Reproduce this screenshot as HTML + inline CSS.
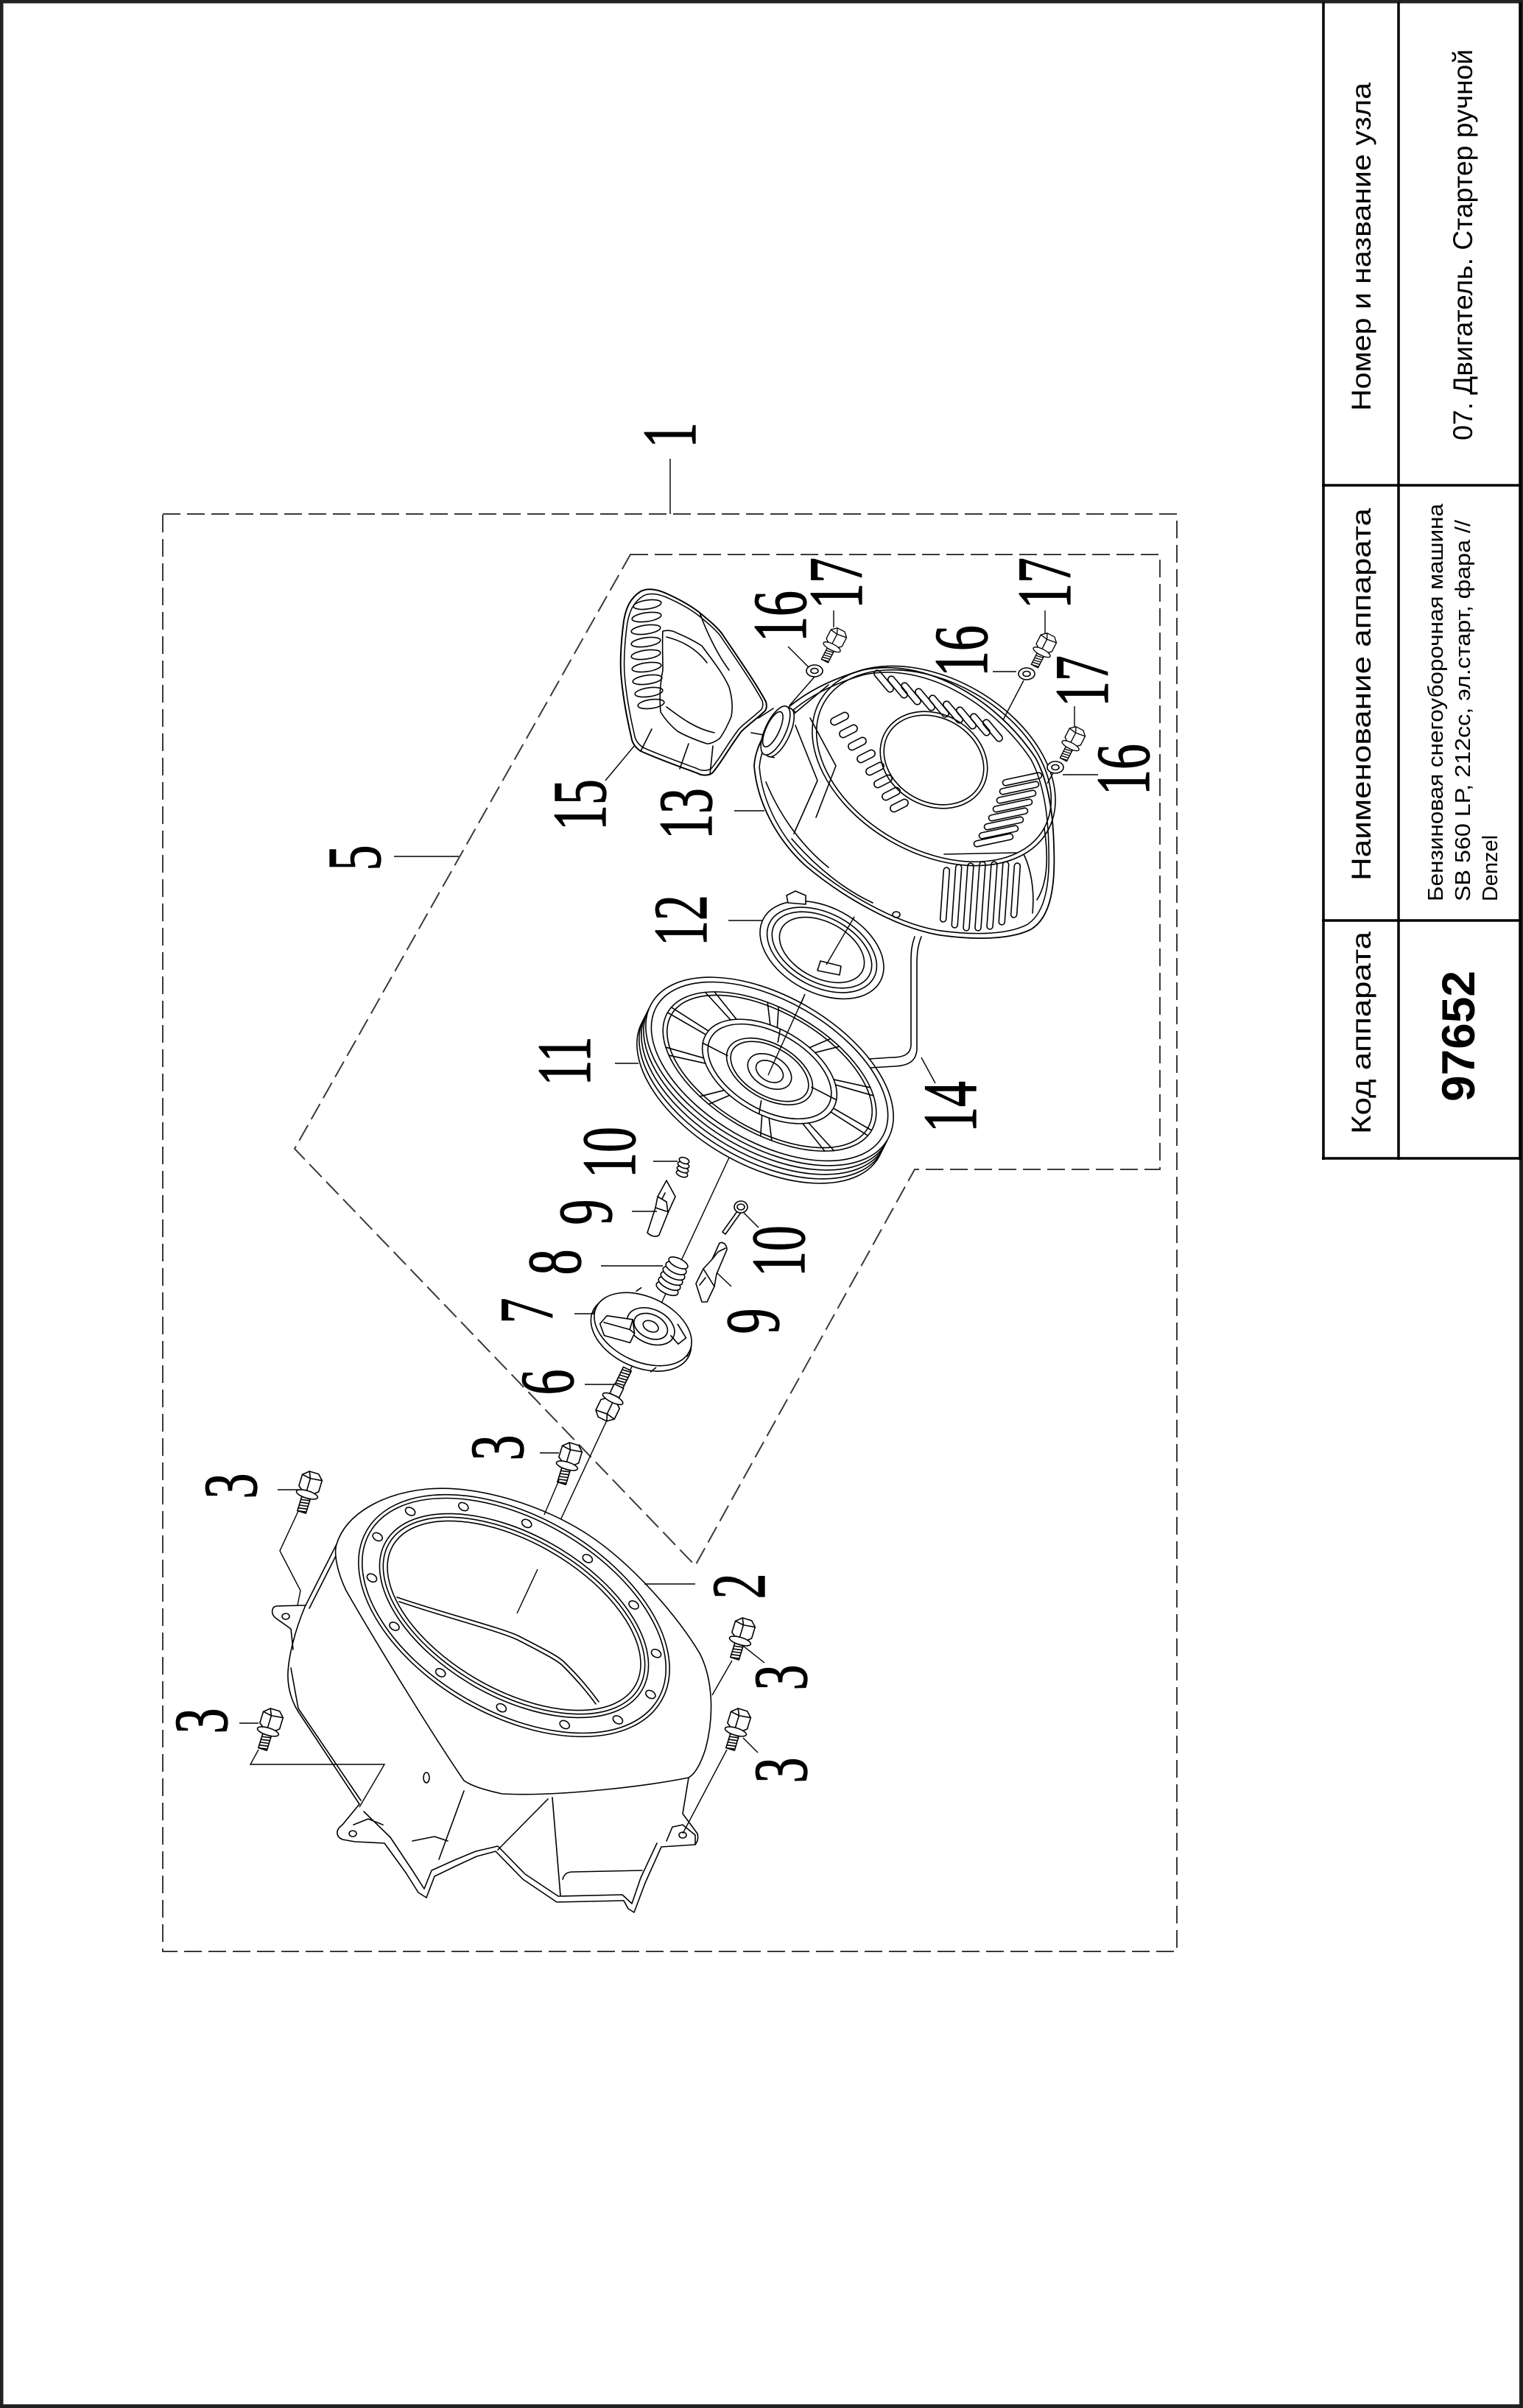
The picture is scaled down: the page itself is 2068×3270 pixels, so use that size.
<!DOCTYPE html>
<html>
<head>
<meta charset="utf-8">
<style>
html,body{margin:0;padding:0;background:#fff}
svg{display:block}
.t{font-family:"Liberation Sans",Arial,sans-serif;fill:#000}
.n{font-family:"Liberation Serif","Times New Roman",serif;font-size:104px;fill:#000;stroke:#000;stroke-width:1.3}
.d{fill:none;stroke:#000;stroke-width:1.6;stroke-linejoin:round;stroke-linecap:round}
.w{fill:#fff;stroke:#000;stroke-width:1.6;stroke-linejoin:round}
.l{fill:none;stroke:#000;stroke-width:1.4}
.ds{fill:none;stroke:#3a3a3a;stroke-width:2;stroke-dasharray:24 9}
.tb{stroke:#000;stroke-width:3.5;fill:none}
</style>
</head>
<body>
<svg width="2068" height="3270" viewBox="0 0 2068 3270" xmlns="http://www.w3.org/2000/svg" xmlns:xlink="http://www.w3.org/1999/xlink">
<defs>
  <g id="bolt">
    <path class="w" d="M-14,-10 L-6,-17 L7,-17 L14,-10 L14,6 L7,12 L-6,12 L-14,6 Z"/>
    <path class="d" d="M-6,-17 L-2,-8 L14,-10 M-2,-8 L-14,-10 M-2,-8 L-2,11"/>
    <ellipse class="w" cx="0" cy="14" rx="15" ry="5"/>
    <rect class="w" x="-6" y="19" width="12" height="20"/>
    <path class="d" d="M-6,23 L6,21 M-6,27 L6,25 M-6,31 L6,29 M-6,35 L6,33 M-6,39 L6,37"/>
  </g>
  <g id="washer">
    <ellipse class="w" cx="0" cy="0" rx="11" ry="8"/>
    <ellipse class="d" cx="0" cy="0" rx="5" ry="3.5"/>
  </g>
  <path id="cov" d="M1024,1040 C1028,985 1085,935 1171,910 C1255,892 1352,948 1406,1029 C1424,1062 1430,1105 1431,1150 C1433,1200 1428,1245 1400,1262 C1370,1277 1320,1276 1277,1270 C1215,1260 1140,1215 1093,1175 C1055,1140 1028,1090 1024,1040 Z"/>
  <path id="hdl" d="M870,803 C878,799 890,799 905,806 C925,815 940,824 950,832 C962,842 972,850 980,860 C1000,890 1025,925 1040,953 C1042,960 1040,965 1037,967 C1025,978 1015,985 1007,993 C990,1015 980,1035 967,1050 C960,1054 952,1053 947,1050 C920,1040 892,1030 870,1020 C862,1015 858,1008 857,1000 C850,970 845,940 843,913 C842,890 844,865 847,843 C850,825 856,812 870,803 Z"/>
  <rect id="slotA" x="-18" y="-4.5" width="36" height="9" rx="4.5"/>
  <rect id="slotB" x="-13" y="-5" width="26" height="10" rx="5"/>
  <rect id="slotC" x="-27" y="-4" width="54" height="8" rx="4"/>
</defs>

<!-- page frame -->
<rect x="0" y="0" width="2068" height="3270" fill="#fff"/>
<rect x="2" y="2" width="2063.5" height="3265.5" fill="none" stroke="#222" stroke-width="5"/>

<!-- title block -->
<line class="tb" x1="1797" y1="3" x2="1797" y2="1575"/>
<line class="tb" x1="1899" y1="3" x2="1899" y2="1575"/>
<line class="tb" x1="2064" y1="3" x2="2064" y2="1575"/>
<line class="tb" x1="1795" y1="659" x2="2066" y2="659"/>
<line class="tb" x1="1795" y1="1250" x2="2066" y2="1250"/>
<line class="tb" x1="1795" y1="1573" x2="2066" y2="1573"/>

<text class="t" font-size="37" transform="translate(1861,558) rotate(-90)" textLength="446" lengthAdjust="spacingAndGlyphs">Номер и название узла</text>
<text class="t" font-size="37" transform="translate(1999,598) rotate(-90)" textLength="531" lengthAdjust="spacingAndGlyphs">07. Двигатель. Стартер ручной</text>
<text class="t" font-size="37" transform="translate(1861,1196) rotate(-90)" textLength="506" lengthAdjust="spacingAndGlyphs">Наименование аппарата</text>
<text class="t" font-size="37" transform="translate(1861,1540) rotate(-90)" textLength="275" lengthAdjust="spacingAndGlyphs">Код аппарата</text>
<text class="t" font-size="63" font-weight="bold" transform="translate(2002,1496) rotate(-90)" textLength="178" lengthAdjust="spacingAndGlyphs">97652</text>
<text class="t" font-size="29" transform="translate(1959,1224) rotate(-90)" textLength="540" lengthAdjust="spacingAndGlyphs">Бензиновая снегоуборочная машина</text>
<text class="t" font-size="29" transform="translate(1996,1224) rotate(-90)" textLength="518" lengthAdjust="spacingAndGlyphs">SB 560 LP, 212cc, эл.старт, фара //</text>
<text class="t" font-size="29" transform="translate(2033,1224) rotate(-90)" textLength="90" lengthAdjust="spacingAndGlyphs">Denzel</text>

<!-- dashed boxes -->
<rect class="ds" x="221" y="698" width="1377" height="1952"/>
<path class="ds" d="M856,753 L1575,753 L1575,1588 L1242,1588 L944,2126 L400,1560 Z"/>

<!-- axis lines -->
<path class="l" d="M702,2191 L990,1572"/>
<path class="l" d="M1043,1470 L1093,1350"/>
<path class="l" d="M1122,1330 L1160,1245"/>
<path class="l" d="M1390,924 L1222,1246"/>
<path class="l" d="M1107,918 L1072,958"/>
<path class="l" d="M1431,1048 L1422,1064"/>

<!-- ===== HOUSING (2) ===== -->
<path class="d" d="M457,2097 L414,2182 C400,2215 392,2250 391,2271 C390,2295 398,2315 408,2329 L488,2450 L465,2478 C455,2485 456,2494 465,2498 L482,2501 L522,2503 L551,2543 L568,2570 L579,2577 L590,2548 L619,2534 L647,2521 L673,2514 L710,2552 L756,2583 L847,2581 L853,2592 L861,2597 L876,2557 L898,2508 L944,2505 C948,2500 948,2494 947,2490 L927,2463 L935,2414"/>
<path class="d" d="M494,2460 L530,2495 L560,2540 L576,2565 L586,2540 L617,2526 L646,2514 L676,2507 L713,2545 L758,2575 L845,2573 L858,2585 L870,2550 L892,2503"/>
<path class="d" d="M462,2101 L420,2184 M395,2265 L405,2320 L490,2445"/>
<path class="d" d="M414,2180 L375,2181 C368,2183 368,2192 374,2197 L395,2212 L398,2240"/>
<ellipse class="d" cx="388" cy="2195" rx="5" ry="4"/>
<ellipse class="d" cx="479" cy="2490" rx="5" ry="4"/>
<path class="d" d="M913,2481 L927,2478 L944,2492 L944,2505 M913,2481 L905,2500"/>
<ellipse class="d" cx="927" cy="2492" rx="5" ry="4"/>
<ellipse class="d" cx="579" cy="2414" rx="4" ry="7"/>
<path class="d" d="M630,2432 L596,2525 M750,2441 L761,2574 M744,2443 L676,2512 M764,2552 C766,2545 770,2542 778,2542 L872,2540"/>
<path class="d" d="M480,2478 L500,2470 L520,2478 M560,2500 L590,2494 L608,2500"/>
<!-- face outline -->
<path class="w" d="M457,2097 C470,2055 520,2028 580,2022 C650,2016 740,2045 800,2085 C860,2125 920,2195 950,2245 C968,2280 970,2330 958,2375 C950,2400 942,2410 935,2414 C880,2425 760,2440 682,2436 C655,2430 640,2425 630,2418 C590,2360 510,2230 470,2160 C458,2135 453,2110 457,2097 Z"/>
<g transform="translate(698,2194) rotate(30)">
  <ellipse class="d" rx="231" ry="135" stroke-width="2"/>
  <ellipse class="d" rx="226" ry="130"/>
  <ellipse class="d" rx="201" ry="110"/>
  <ellipse class="d" rx="196" ry="105"/>
  <ellipse class="d" rx="190" ry="100" stroke-width="2.2"/>
  <g class="d">
    <ellipse cx="214" cy="0" rx="7" ry="5"/>
    <ellipse cx="192.8" cy="52.1" rx="7" ry="5"/>
    <ellipse cx="133.5" cy="93.8" rx="7" ry="5"/>
    <ellipse cx="47.7" cy="117" rx="7" ry="5"/>
    <ellipse cx="-47.7" cy="117" rx="7" ry="5"/>
    <ellipse cx="-133.5" cy="93.8" rx="7" ry="5"/>
    <ellipse cx="-192.8" cy="52.1" rx="7" ry="5"/>
    <ellipse cx="-214" cy="0" rx="7" ry="5"/>
    <ellipse cx="-192.8" cy="-52.1" rx="7" ry="5"/>
    <ellipse cx="-133.5" cy="-93.8" rx="7" ry="5"/>
    <ellipse cx="-47.7" cy="-117" rx="7" ry="5"/>
    <ellipse cx="47.7" cy="-117" rx="7" ry="5"/>
    <ellipse cx="133.5" cy="-93.8" rx="7" ry="5"/>
    <ellipse cx="192.8" cy="-52.1" rx="7" ry="5"/>
  </g>
</g>
<path class="d" d="M539,2169 C600,2190 680,2210 705,2222 C740,2240 760,2250 767,2258 C790,2280 805,2300 813,2311"/>
<path class="d" d="M542,2175 C600,2195 678,2215 703,2227 C738,2245 757,2255 764,2262 C786,2284 801,2303 809,2314"/>
<path class="l" d="M702,2191 L730,2131"/>

<!-- bolts 3 -->
<use xlink:href="#bolt" transform="translate(774,1977) rotate(17)"/>
<use xlink:href="#bolt" transform="translate(421,2016) rotate(17)"/>
<use xlink:href="#bolt" transform="translate(368,2338) rotate(17)"/>
<use xlink:href="#bolt" transform="translate(1009,2215) rotate(17)"/>
<use xlink:href="#bolt" transform="translate(1003,2338) rotate(17)"/>
<path class="l" d="M759,2010 L739,2057"/>
<path class="l" d="M405,2052 L380,2106 L408,2160 L404,2180"/>
<path class="l" d="M351,2376 L340,2396 L522,2396 L488,2454"/>
<path class="l" d="M994,2255 L967,2302"/>
<path class="l" d="M987,2376 L927,2490"/>

<!-- ===== PART 6-10 ===== -->
<g transform="translate(826,1912) rotate(206)">
  <path class="w" d="M-14,-10 L-6,-17 L7,-17 L14,-10 L14,6 L7,12 L-6,12 L-14,6 Z"/>
  <path class="d" d="M-6,-17 L-2,-8 L14,-10 M-2,-8 L-14,-10 M-2,-8 L-2,11"/>
  <ellipse class="w" cx="0" cy="14" rx="15" ry="5"/>
  <rect class="w" x="-7" y="19" width="14" height="14"/>
  <rect class="w" x="-6" y="33" width="12" height="26"/>
  <path class="d" d="M-6,37 L6,35 M-6,41 L6,39 M-6,45 L6,43 M-6,49 L6,47 M-6,53 L6,51 M-6,57 L6,55"/>
</g>
<g transform="translate(873,1805) rotate(25)">
  <ellipse class="w" cx="0" cy="6" rx="72" ry="46"/>
  <ellipse class="w" cx="0" cy="0" rx="70" ry="44"/>
  <path class="d" d="M-70,0 L-70,8 M70,0 L70,8 M-30,-43 L-26,-50 M38,40 L34,48"/>
  <ellipse class="d" cx="8" cy="-8" rx="34" ry="23"/>
  <ellipse class="d" cx="8" cy="-8" rx="24" ry="16"/>
  <ellipse class="d" cx="8" cy="-8" rx="11" ry="7"/>
  <path class="w" d="M-52,4 L-18,-6 L-8,10 L-8,24 L-44,30 L-56,18 Z"/>
  <path class="d" d="M-18,-6 L-16,8 L-52,14 M-16,8 L-8,10 M40,-26 L58,-14 L52,-2 L38,-8"/>
</g>
<g class="w">
  <ellipse cx="906" cy="1750" rx="16" ry="7" transform="rotate(25 906 1750)"/>
  <ellipse cx="909" cy="1743" rx="16" ry="7" transform="rotate(25 909 1743)"/>
  <ellipse cx="912" cy="1736" rx="16" ry="7" transform="rotate(25 912 1736)"/>
  <ellipse cx="915" cy="1729" rx="16" ry="7" transform="rotate(25 915 1729)"/>
  <ellipse cx="918" cy="1722" rx="15" ry="7" transform="rotate(25 918 1722)"/>
  <ellipse cx="921" cy="1715" rx="14" ry="6" transform="rotate(25 921 1715)"/>
</g>
<path class="w" d="M905,1603 L917,1625 L907,1647 L895,1677 C892,1680 885,1680 879,1674 L890,1640 L893,1625 Z"/>
<path class="d" d="M893,1625 L905,1632 L907,1647 M890,1640 L905,1645 M899,1628 L903,1620"/>
<path class="w" d="M977,1688 C982,1686 987,1690 987,1697 L973,1730 L970,1747 L960,1768 L953,1768 L945,1743 L955,1723 L967,1710 Z"/>
<path class="d" d="M955,1723 L970,1747 M967,1710 L975,1700 L985,1695 M950,1745 L958,1735"/>
<g class="w">
  <ellipse cx="926" cy="1594" rx="8" ry="4" transform="rotate(20 926 1594)"/>
  <ellipse cx="927" cy="1588" rx="8" ry="4" transform="rotate(20 927 1588)"/>
  <ellipse cx="928" cy="1582" rx="8" ry="4" transform="rotate(20 928 1582)"/>
  <ellipse cx="929" cy="1576" rx="7" ry="4" transform="rotate(20 929 1576)"/>
</g>
<path class="d" d="M1001,1645 L981,1673 M1005,1648 L985,1676 M981,1673 L985,1676"/>
<ellipse class="w" cx="1006" cy="1639" rx="9" ry="8"/>
<ellipse class="d" cx="1006" cy="1639" rx="5" ry="4"/>

<!-- ===== PULLEY 11 ===== -->
<g transform="translate(1033,1479) rotate(30)"><ellipse class="d" rx="185" ry="102" stroke-width="2"/></g>
<g transform="translate(1036,1473) rotate(30)"><ellipse class="d" rx="185" ry="102"/></g>
<g transform="translate(1039,1467) rotate(30)"><ellipse class="d" rx="185" ry="102" stroke-width="2"/></g>
<g transform="translate(1042,1461) rotate(30)"><ellipse class="d" rx="185" ry="102"/></g>
<g transform="translate(1045,1455) rotate(30)">
  <ellipse class="w" rx="185" ry="102" stroke-width="2"/>
  <ellipse class="d" rx="177" ry="96"/>
  <ellipse class="d" rx="160" ry="84"/>
  <ellipse class="d" rx="154" ry="80"/>
  <path class="d" d="M100,0 L160,0 M99.5,6.1 L159.2,8.8 M80.9,34.1 L129.4,49.4 M74.3,38.8 L118.9,56.2 M30.9,55.2 L49.4,79.9 M20.8,56.7 L33.3,82.2 M-30.9,55.2 L-49.4,79.9 M-40.7,53 L-65.1,76.8 M-80.9,34.1 L-129.4,49.4 M-86.6,29 L-138.6,42 M-100,0 L-160,0 M-99.5,-6.1 L-159.2,-8.8 M-80.9,-34.1 L-129.4,-49.4 M-74.3,-38.8 L-118.9,-56.2 M-30.9,-55.2 L-49.4,-79.9 M-20.8,-56.7 L-33.3,-82.2 M30.9,-55.2 L49.4,-79.9 M40.7,-53 L65.1,-76.8 M80.9,-34.1 L129.4,-49.4 M86.6,-29 L138.6,-42"/>
  <path class="d" d="M60,-10 L98,-12 M-60,10 L-98,12 M10,40 L16,56 M-10,-40 L-16,-56"/>
  <ellipse class="d" rx="100" ry="58"/>
  <ellipse class="d" rx="92" ry="52"/>
  <ellipse class="d" rx="64" ry="37"/>
  <ellipse class="d" rx="58" ry="33"/>
  <ellipse class="d" rx="32" ry="21"/>
  <ellipse class="d" rx="20" ry="13"/>
</g>
<path class="l" d="M1043,1460 L1093,1350"/>

<!-- ===== ROPE 14 ===== -->
<path class="d" d="M1251,1272 C1246,1285 1245,1295 1245,1310 L1245,1425 C1244,1440 1235,1447 1215,1448 L1182,1450"/>
<path class="d" d="M1242,1272 C1238,1283 1237,1292 1237,1305 L1237,1420 C1236,1430 1230,1436 1210,1436 L1180,1438"/>

<!-- ===== SPRING 12 ===== -->
<g transform="translate(1116,1290) rotate(28)">
  <ellipse class="w" rx="90" ry="58"/>
  <ellipse class="d" rx="80" ry="50" stroke-width="9"/>
  <ellipse class="d" rx="73" ry="44"/>
  <ellipse class="d" rx="62" ry="38"/>
</g>
<path class="w" d="M1068,1216 L1080,1210 L1094,1216 L1094,1228 L1070,1226 Z"/>
<path class="w" d="M1110,1318 L1140,1324 L1142,1312 L1114,1305 Z"/>
<path class="l" d="M1122,1310 L1160,1245"/>

<!-- ===== COVER 13 ===== -->
<use xlink:href="#cov" style="fill:#fff;stroke:#000;stroke-width:1.8"/>
<use xlink:href="#cov" class="d" transform="translate(1228,1090) scale(0.965) translate(-1228,-1090)"/>
<path class="d" d="M1418,1125 C1424,1165 1422,1200 1408,1222" stroke-width="4"/>
<path class="d" d="M1075,1139 C1110,1180 1150,1210 1185,1226 M1040,1062 C1060,1110 1090,1150 1125,1178 M1080,985 L1110,1060 L1078,1132 M1100,975 L1135,1040 L1108,1110"/>
<ellipse class="d" cx="1217" cy="1242" rx="5" ry="4"/>
<g transform="translate(1268,1040) rotate(30)">
  <ellipse class="d" rx="178" ry="118"/>
  <ellipse class="d" rx="172" ry="113"/>
</g>
<g transform="translate(1268,1032) rotate(30)">
  <ellipse class="w" rx="76" ry="62"/>
  <ellipse class="d" rx="71" ry="57"/>
</g>
<g class="d">
  <use xlink:href="#slotA" transform="translate(1200,925) rotate(50)"/>
  <use xlink:href="#slotA" transform="translate(1219,933) rotate(50)"/>
  <use xlink:href="#slotA" transform="translate(1237,942) rotate(50)"/>
  <use xlink:href="#slotA" transform="translate(1256,950) rotate(50)"/>
  <use xlink:href="#slotA" transform="translate(1275,959) rotate(50)"/>
  <use xlink:href="#slotA" transform="translate(1294,967) rotate(50)"/>
  <use xlink:href="#slotA" transform="translate(1312,975) rotate(50)"/>
  <use xlink:href="#slotA" transform="translate(1331,984) rotate(50)"/>
  <use xlink:href="#slotA" transform="translate(1348,992) rotate(50)"/>

  <use xlink:href="#slotB" transform="translate(1140,976) rotate(-27)"/>
  <use xlink:href="#slotB" transform="translate(1152,993) rotate(-27)"/>
  <use xlink:href="#slotB" transform="translate(1164,1010) rotate(-27)"/>
  <use xlink:href="#slotB" transform="translate(1176,1027) rotate(-27)"/>
  <use xlink:href="#slotB" transform="translate(1188,1044) rotate(-27)"/>
  <use xlink:href="#slotB" transform="translate(1199,1061) rotate(-27)"/>
  <use xlink:href="#slotB" transform="translate(1210,1078) rotate(-27)"/>
  <use xlink:href="#slotB" transform="translate(1221,1094) rotate(-27)"/>

  <use xlink:href="#slotC" transform="translate(1388,1058) rotate(-12)"/>
  <use xlink:href="#slotC" transform="translate(1384,1070) rotate(-12)"/>
  <use xlink:href="#slotC" transform="translate(1380,1082) rotate(-12)"/>
  <use xlink:href="#slotC" transform="translate(1375,1094) rotate(-12)"/>
  <use xlink:href="#slotC" transform="translate(1369,1106) rotate(-12)"/>
  <use xlink:href="#slotC" transform="translate(1363,1118) rotate(-12)"/>
  <use xlink:href="#slotC" transform="translate(1356,1130) rotate(-12)"/>
  <use xlink:href="#slotC" transform="translate(1349,1141) rotate(-12)"/>

  <rect x="1279" y="1178" width="8" height="74" rx="4" transform="rotate(4 1283 1215)"/>
  <rect x="1295" y="1174" width="8" height="86" rx="4" transform="rotate(4 1299 1217)"/>
  <rect x="1311" y="1172" width="8" height="92" rx="4" transform="rotate(4 1315 1218)"/>
  <rect x="1327" y="1170" width="8" height="94" rx="4" transform="rotate(4 1331 1217)"/>
  <rect x="1343" y="1170" width="8" height="92" rx="4" transform="rotate(4 1347 1216)"/>
  <rect x="1359" y="1170" width="8" height="86" rx="4" transform="rotate(4 1363 1213)"/>
  <rect x="1375" y="1172" width="8" height="74" rx="4" transform="rotate(4 1379 1209)"/>
</g>
<path class="d" d="M1282,1160 L1380,1158 M1390,1160 C1400,1180 1405,1210 1402,1240"/>

<!-- ===== HANDLE 15 ===== -->
<path class="d" d="M1030,975 L1050,962 M1020,995 L1048,1000 M1075,972 L1125,930"/>
<g transform="translate(1053,992) rotate(25)">
  <ellipse class="w" cx="6" cy="0" rx="14" ry="36"/>
  <ellipse class="w" cx="0" cy="0" rx="14" ry="36"/>
  <ellipse class="d" cx="-4" cy="0" rx="9" ry="26"/>
  <path class="d" d="M6,-36 L14,-34 M6,36 L14,34"/>
</g>
<use xlink:href="#hdl" style="fill:#fff;stroke:#000;stroke-width:2"/>
<use xlink:href="#hdl" class="d" transform="translate(940,925) scale(0.95) translate(-940,-925)"/>
<path class="w" d="M900,857 C908,855 915,857 920,860 C935,866 945,872 953,877 C970,900 982,915 990,933 C995,950 995,962 993,973 C988,985 983,995 977,1003 C970,1008 965,1010 960,1010 C945,1005 932,1000 920,993 C910,985 902,975 897,967 C895,945 897,925 900,910 C900,890 899,870 900,857 Z"/>
<path class="d" d="M905,865 C925,870 945,880 960,900 M905,960 C925,975 945,990 970,995 M950,832 C960,860 975,890 990,910 M870,1020 L885,990 M923,1044 L935,1010 M964,1052 L968,1013"/>
<g class="d">
  <ellipse cx="879" cy="821" rx="19" ry="6" transform="rotate(-8 879 821)"/>
  <ellipse cx="878" cy="838" rx="20" ry="6" transform="rotate(-8 878 838)"/>
  <ellipse cx="877" cy="855" rx="20" ry="6" transform="rotate(-8 877 855)"/>
  <ellipse cx="877" cy="872" rx="20" ry="6" transform="rotate(-8 877 872)"/>
  <ellipse cx="877" cy="889" rx="20" ry="6" transform="rotate(-8 877 889)"/>
  <ellipse cx="878" cy="906" rx="20" ry="6" transform="rotate(-8 878 906)"/>
  <ellipse cx="879" cy="923" rx="20" ry="6" transform="rotate(-8 879 923)"/>
  <ellipse cx="881" cy="940" rx="19" ry="6" transform="rotate(-8 881 940)"/>
  <ellipse cx="884" cy="956" rx="18" ry="6" transform="rotate(-8 884 956)"/>
</g>

<!-- bolts 17 and washers 16 -->
<use xlink:href="#bolt" transform="translate(1135,868) rotate(27) scale(0.85)"/>
<use xlink:href="#bolt" transform="translate(1420,875) rotate(27) scale(0.85)"/>
<use xlink:href="#bolt" transform="translate(1459,1002) rotate(27) scale(0.85)"/>
<use xlink:href="#washer" transform="translate(1106,911)"/>
<use xlink:href="#washer" transform="translate(1394,915)"/>
<use xlink:href="#washer" transform="translate(1433,1042)"/>

<!-- leader lines -->
<g class="l">
  <path d="M910,623 L910,698"/>
  <path d="M535,1163 L623,1163"/>
  <path d="M822,1060 L862,1012"/>
  <path d="M997,1101 L1038,1101"/>
  <path d="M989,1250 L1035,1250"/>
  <path d="M835,1444 L867,1444"/>
  <path d="M1251,1436 L1270,1471"/>
  <path d="M1070,878 L1098,906"/>
  <path d="M1132,829 L1132,852"/>
  <path d="M1348,912 L1380,912"/>
  <path d="M1419,829 L1419,860"/>
  <path d="M1459,959 L1459,988"/>
  <path d="M1443,1052 L1491,1052"/>
  <path d="M887,1577 L920,1577"/>
  <path d="M858,1645 L892,1645"/>
  <path d="M816,1719 L900,1719"/>
  <path d="M780,1784 L807,1784"/>
  <path d="M794,1880 L833,1880"/>
  <path d="M733,1973 L759,1973"/>
  <path d="M377,2023 L405,2023"/>
  <path d="M325,2340 L351,2340"/>
  <path d="M875,2151 L944,2151"/>
  <path d="M1009,2235 L1038,2258"/>
  <path d="M1009,2360 L1029,2380"/>
  <path d="M1010,1647 L1030,1667"/>
  <path d="M973,1728 L993,1747"/>
</g>

<!-- number labels -->
<g class="n" text-anchor="middle">
  <text transform="translate(944,591) rotate(-90) scale(0.67,1)">1</text>
  <text transform="translate(516,1165) rotate(-90) scale(0.67,1)">5</text>
  <text transform="translate(822,1093) rotate(-90) scale(0.67,1)">15</text>
  <text transform="translate(966,1105) rotate(-90) scale(0.67,1)">13</text>
  <text transform="translate(959,1250) rotate(-90) scale(0.67,1)">12</text>
  <text transform="translate(801,1441) rotate(-90) scale(0.67,1)">11</text>
  <text transform="translate(1325,1503) rotate(-90) scale(0.67,1)">14</text>
  <text transform="translate(862,1565) rotate(-90) scale(0.67,1)">10</text>
  <text transform="translate(1094,837) rotate(-90) scale(0.67,1)">16</text>
  <text transform="translate(1170,792) rotate(-90) scale(0.67,1)">17</text>
  <text transform="translate(1340,884) rotate(-90) scale(0.67,1)">16</text>
  <text transform="translate(1453,792) rotate(-90) scale(0.67,1)">17</text>
  <text transform="translate(1504,925) rotate(-90) scale(0.67,1)">17</text>
  <text transform="translate(1560,1045) rotate(-90) scale(0.67,1)">16</text>
  <text transform="translate(830,1646) rotate(-90) scale(0.67,1)">9</text>
  <text transform="translate(788,1714) rotate(-90) scale(0.67,1)">8</text>
  <text transform="translate(750,1780) rotate(-90) scale(0.67,1)">7</text>
  <text transform="translate(778,1877) rotate(-90) scale(0.67,1)">6</text>
  <text transform="translate(710,1966) rotate(-90) scale(0.67,1)">3</text>
  <text transform="translate(348,2018) rotate(-90) scale(0.67,1)">3</text>
  <text transform="translate(308,2337) rotate(-90) scale(0.67,1)">3</text>
  <text transform="translate(1038,2154) rotate(-90) scale(0.67,1)">2</text>
  <text transform="translate(1095,2278) rotate(-90) scale(0.67,1)">3</text>
  <text transform="translate(1095,2404) rotate(-90) scale(0.67,1)">3</text>
  <text transform="translate(1092,1699) rotate(-90) scale(0.67,1)">10</text>
  <text transform="translate(1057,1794) rotate(-90) scale(0.67,1)">9</text>
</g>
</svg>
</body>
</html>
